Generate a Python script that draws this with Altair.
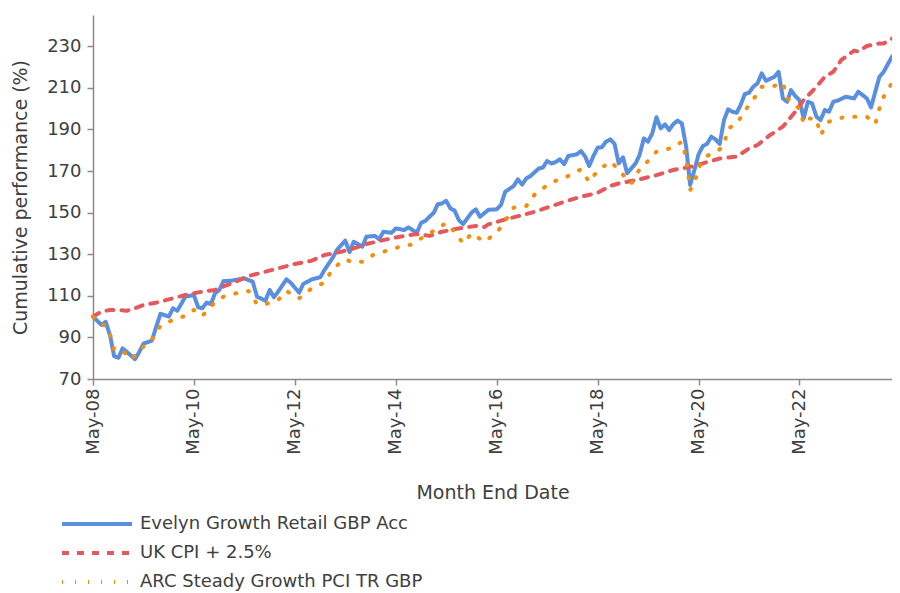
import altair as alt
import pandas as pd

START = "2008-05-01"  # first month end of the series (month offset 0)

series_names = ["Evelyn Growth Retail GBP Acc", "UK CPI + 2.5%", "ARC Steady Growth PCI TR GBP"]
series_colors = ["#5A8EDE", "#E45A5C", "#F28E0C"]
series_dash = [[1, 0], [7, 8], [1, 12]]

# months since May-08
evelyn_m = [0, 2, 3, 4, 5, 6, 7, 8, 10, 11,
            12, 14, 15, 16, 18, 19, 20, 22, 24, 25,
            26, 27, 28, 29, 30, 31, 33, 36, 38, 39,
            41, 42, 43, 44, 46, 47, 49, 50, 52, 54,
            55, 57, 58, 60, 61, 62, 64, 65, 67, 68,
            69, 71, 72, 74, 75, 77, 78, 79, 81, 82,
            83, 84, 85, 86, 87, 88, 90, 91, 92, 94,
            96, 97, 98, 100, 101, 102, 103, 104, 106, 107,
            108, 109, 110, 111, 112, 113, 115, 116, 117, 118,
            119, 120, 121, 122, 123, 124, 125, 126, 127, 129,
            130, 131, 132, 133, 134, 135, 136, 137, 138, 139,
            140, 141, 142, 143, 144, 145, 146, 147, 148, 149,
            150, 151, 152, 153, 154, 155, 156, 157, 158, 159,
            160, 162, 163, 164, 165, 166, 167, 168, 169, 170,
            171, 172, 173, 174, 175, 176, 177, 179, 181, 182,
            184, 185, 186, 187, 188, 190]
evelyn_v = [100, 96, 97.5, 91, 81, 80.2, 84.7, 83, 79.5, 83,
            87, 88.4, 95, 101.3, 100, 104, 102.8, 109.6, 110.4, 104.5,
            104, 106.7, 106, 111.2, 112.8, 117, 117.3, 118.4, 116.8, 109.6,
            107.7, 112.8, 109.3, 112, 117.9, 116.3, 111.5, 115.7, 117.9, 118.9,
            122.4, 128.5, 132, 136.5, 131, 136, 133.6, 138.4, 138.8, 137.2,
            140.8, 140.3, 142.4, 141.6, 142.9, 140.3, 145.1, 146, 150, 154,
            154.4, 155.7, 152, 151, 146.4, 144.5, 150, 151.6, 148, 151.3,
            151.6, 153.7, 160, 162.8, 166, 163.5, 166.4, 167.6, 171.2, 171.7,
            174.8, 173.6, 174.3, 175.6, 173.3, 177.2, 178, 179.6, 176.9, 172.4,
            177.2, 181.2, 181.4, 184.1, 185.2, 183, 173.7, 176.6, 168.9, 173.7,
            177.7, 185.7, 184.1, 188.1, 195.8, 190.5, 192.4, 189.7, 192.6, 194.2,
            192.9, 181.7, 163.3, 170.5, 178, 182, 183, 186.5, 185.2, 183,
            194.5, 199.6, 198.5, 198, 201.7, 207, 207.6, 210.5, 212.1, 216.9,
            213.4, 215.3, 217.7, 204.9, 203.3, 208.9, 206, 204.1, 195.3, 203.3,
            202.5, 196.1, 194.5, 199.3, 198.5, 203.3, 203.8, 205.7, 204.9, 208.1,
            204.9, 200.6, 208.1, 215.3, 217.7, 225]

cpi_m = [0, 2, 4, 6, 8, 10, 12, 15, 19, 22,
         26, 29, 31, 34, 37, 41, 44, 48, 52, 55,
         59, 62, 65, 69, 73, 77, 80, 83, 87, 91,
         93, 94, 98, 102, 105, 109, 112, 116, 120, 123,
         125, 130, 134, 138, 142, 145, 149, 153, 156, 158,
         161, 164, 167, 169, 172, 174, 176, 178, 181, 182,
         184, 187, 188, 190]
cpi_v = [100, 102.4, 103.2, 103.2, 102.8, 104, 105.6, 106.7, 108.8, 110.4,
         112, 112.8, 114.5, 116.8, 119.5, 121.6, 123.2, 125.3, 126.9, 129.6,
         131.2, 132.8, 134.9, 136.8, 138.4, 139.7, 138.8, 140.8, 142.4, 143.6,
         143, 144.3, 146.7, 148.8, 150.4, 153.1, 155.2, 157.6, 159.5, 162.8,
         164, 166, 168, 170.5, 172, 173.7, 176, 176.9, 180.8, 182.5,
         187.3, 191.3, 198.5, 204.1, 210.5, 215.3, 217.7, 223.4, 227.9, 227.4,
         230.1, 231.3, 231.3, 233.7]

arc_m = [0, 3, 4, 5, 7, 9, 12, 14, 16, 19,
         22, 24, 26, 28, 31, 34, 37, 39, 41, 44,
         46, 49, 52, 55, 57, 60, 62, 64, 67, 69,
         73, 76, 78, 81, 84, 86, 88, 90, 93, 96,
         98, 100, 103, 105, 108, 110, 113, 116, 118, 120,
         123, 125, 127, 128, 130, 132, 134, 136, 138, 140,
         141, 142, 143, 144, 146, 149, 150, 151, 153, 155,
         157, 159, 161, 164, 165, 166, 168, 169, 170, 172,
         173, 175, 176, 179, 182, 184, 186, 187, 188, 190]
arc_v = [100, 95.2, 91.6, 84, 83.6, 79.6, 85.5, 88.8, 95.6, 98.4,
         100.4, 103.2, 100.3, 105.1, 109.6, 111.2, 112.3, 106, 106, 108,
         112.3, 108.8, 113.6, 116.3, 123.2, 127.5, 125.9, 126.4, 130.1, 131.2,
         133.6, 134.7, 137.6, 141.3, 145, 140.8, 135.2, 140, 136, 140.3,
         146, 152.4, 153.2, 158.8, 163.1, 165.3, 167.6, 170.8, 164.8, 170.1,
         174.5, 170.8, 165.7, 164, 170.8, 174.8, 179.3, 180.1, 181.5, 184.1,
         176.4, 160.9, 164.2, 171.7, 177.2, 180.4, 182.8, 190.5, 192.6, 199,
         204.4, 210.5, 210.2, 212.4, 204.9, 203.8, 199.8, 192.9, 195.3, 195,
         187.3, 193.7, 194.5, 196.1, 196, 196.1, 192.6, 200.1, 205.7, 212.4]

y_ticks = [70, 90, 110, 130, 150, 170, 190, 210, 230]
x_tick_years = [2008, 2010, 2012, 2014, 2016, 2018, 2020, 2022]


def to_dates(months):
    base = pd.Timestamp(START)
    return [(base + pd.DateOffset(months=m)).strftime("%Y-%m-%d") for m in months]


rows = []
for name, ms, vs in zip(series_names, [evelyn_m, cpi_m, arc_m], [evelyn_v, cpi_v, arc_v]):
    for d, v in zip(to_dates(ms), vs):
        rows.append({"date": d, "value": v, "series": name})
df = pd.DataFrame(rows)

FONT = "DejaVu Sans"
TXT = "#404040"
AX = "#8a8a8a"

x_axis = alt.Axis(
    values=[alt.DateTime(year=y, month=5, date=1, utc=True) for y in x_tick_years],
    format="%b-%y", labelAngle=-90, labelPadding=3, title="Month End Date",
    titleY=104, titleBaseline="top", grid=False,
)
y_axis = alt.Axis(
    values=y_ticks, title="Cumulative performance (%)", grid=False,
    labelPadding=6, titleX=-63, titleY=182, titleBaseline="bottom",
)

chart = alt.Chart(df).mark_line(strokeWidth=4, strokeCap="round", strokeJoin="round").encode(
    x=alt.X("date:T", axis=x_axis,
            scale=alt.Scale(type="utc", domain=[alt.DateTime(year=2008, month=5, date=1, utc=True),
                                                  alt.DateTime(year=2024, month=3, date=1, utc=True)])),
    y=alt.Y("value:Q", axis=y_axis, scale=alt.Scale(domain=[70, 245], nice=False, zero=False)),
    color=alt.Color("series:N", scale=alt.Scale(domain=series_names, range=series_colors),
                    legend=alt.Legend(title=None)),
    strokeDash=alt.StrokeDash("series:N", scale=alt.Scale(domain=series_names, range=series_dash),
                              legend=alt.Legend(title=None)),
).properties(
    width=799, height=364,
    autosize=alt.AutoSizeParams(type="none"),
    padding={"left": 85, "top": 7, "right": 0, "bottom": 213},
).configure_view(stroke=None).configure_axis(
    domainColor=AX, domainWidth=1.5, tickColor=AX, tickWidth=1.5, tickSize=6,
    labelFont=FONT, labelFontSize=18, labelColor=TXT,
    titleFont=FONT, titleFontSize=19, titleColor=TXT, titleFontWeight="normal",
).configure_legend(
    orient="none", legendX=-8, legendY=497,
    symbolType="M-3.5,0H3.5", symbolSize=400, symbolStrokeWidth=4,
    labelFont=FONT, labelFontSize=18, labelColor=TXT, labelOffset=31,
    rowPadding=8, padding=0, labelLimit=500,
)

chart.save("out.html", embed_options={"renderer": "svg", "actions": False})
